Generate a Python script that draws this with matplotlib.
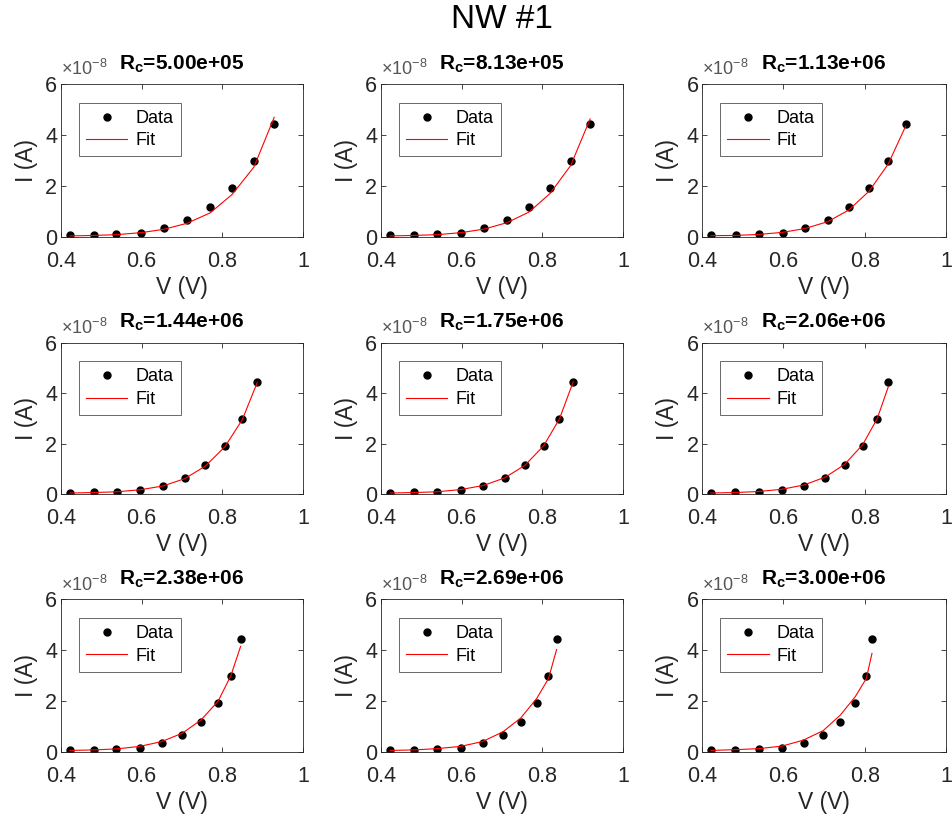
import matplotlib
matplotlib.use("Agg")
import matplotlib.pyplot as plt

plt.rcParams['font.family'] = ['Liberation Sans', 'DejaVu Sans']
plt.rcParams['mathtext.fontset'] = 'custom'
plt.rcParams['mathtext.rm'] = 'Liberation Sans'
plt.rcParams['mathtext.bf'] = 'Liberation Sans:bold'

# contact resistance tried in each panel (ohm)
rc_values = [5.00e5, 8.13e5, 1.13e6, 1.44e6, 1.75e6, 2.06e6, 2.38e6, 2.69e6, 3.00e6]

# measured current, in units of 1e-8 A (same for every panel)
current = [0.07, 0.075, 0.09, 0.16, 0.33, 0.66, 1.16, 1.90, 2.97, 4.44]

# junction voltage after removing the I*Rc drop, one list per panel
voltages = [
    [0.424, 0.482, 0.538, 0.599, 0.655, 0.713, 0.770, 0.824, 0.878, 0.928],
    [0.424, 0.482, 0.540, 0.599, 0.656, 0.712, 0.767, 0.819, 0.870, 0.918],
    [0.422, 0.483, 0.540, 0.598, 0.653, 0.709, 0.761, 0.811, 0.858, 0.901],
    [0.423, 0.482, 0.540, 0.597, 0.653, 0.707, 0.758, 0.806, 0.849, 0.886],
    [0.424, 0.483, 0.540, 0.599, 0.654, 0.707, 0.757, 0.803, 0.842, 0.876],
    [0.422, 0.482, 0.539, 0.597, 0.651, 0.703, 0.751, 0.795, 0.831, 0.858],
    [0.423, 0.482, 0.538, 0.596, 0.650, 0.701, 0.747, 0.789, 0.821, 0.845],
    [0.424, 0.482, 0.539, 0.598, 0.652, 0.702, 0.746, 0.786, 0.815, 0.835],
    [0.422, 0.482, 0.539, 0.597, 0.650, 0.698, 0.740, 0.777, 0.804, 0.818],
]

# diode fit evaluated at the same voltages (1e-8 A)
fits = [
    [0.03, 0.05, 0.08, 0.16, 0.29, 0.53, 0.94, 1.66, 2.74, 4.69],
    [0.03, 0.05, 0.08, 0.16, 0.30, 0.55, 0.97, 1.70, 2.80, 4.63],
    [0.04, 0.05, 0.09, 0.17, 0.32, 0.59, 1.05, 1.79, 2.86, 4.35],
    [0.05, 0.07, 0.10, 0.18, 0.33, 0.62, 1.12, 1.88, 2.95, 4.42],
    [0.05, 0.07, 0.10, 0.19, 0.35, 0.65, 1.15, 1.92, 2.98, 4.45],
    [0.05, 0.07, 0.11, 0.20, 0.37, 0.68, 1.19, 1.96, 3.00, 4.25],
    [0.05, 0.07, 0.11, 0.21, 0.40, 0.73, 1.25, 1.98, 3.00, 4.15],
    [0.05, 0.07, 0.12, 0.21, 0.40, 0.78, 1.32, 2.10, 2.88, 4.02],
    [0.05, 0.08, 0.12, 0.22, 0.46, 0.83, 1.44, 2.17, 2.88, 3.87],
]

W, H = 952, 817
grey = '#262626'
col_left = [60.7, 380.7, 702.0]
col_right = [303.3, 623.3, 946.0]
row_top = [84.0, 342.7, 599.3]
row_bot = [236.7, 494.3, 751.7]

fig = plt.figure(figsize=(W / 100, H / 100), dpi=100)
fig.text(502 / W, 1 - 28 / H, 'NW #1', ha='center', va='baseline', fontsize=24)

for k, rc in enumerate(rc_values):
    r, c = divmod(k, 3)
    x0, x1 = col_left[c], col_right[c]
    y0, y1 = row_top[r], row_bot[r]
    ax = fig.add_axes([x0 / W, 1 - y1 / H, (x1 - x0) / W, (y1 - y0) / H])

    ax.plot(voltages[k], current, 'o', color='k', markersize=5, label='Data')
    ax.plot(voltages[k], fits[k], '-', color='#ff0000', lw=0.8, label='Fit')

    ax.set_xlim(0.4, 1)
    ax.set_ylim(0, 6)
    ax.set_xticks([0.4, 0.6, 0.8, 1.0])
    ax.set_xticklabels(['0.4', '0.6', '0.8', '1'])
    ax.set_yticks([0, 2, 4, 6])
    ax.tick_params(direction='in', top=True, right=True, length=3.6, width=0.6,
                   colors=grey, labelsize=15.5)
    ax.tick_params(axis='x', pad=10)
    ax.tick_params(axis='y', pad=2.5)
    for sp in ax.spines.values():
        sp.set_color(grey)
        sp.set_linewidth(0.6)

    ax.set_xlabel('V (V)', fontsize=16.5, color=grey, labelpad=3)
    ax.set_ylabel('I (A)', fontsize=16.5, color=grey, labelpad=5)
    exp = '{:.2e}'.format(rc)
    ax.set_title(r'$\mathbf{R_c}$=' + exp, fontsize=15, fontweight='bold',
                 color='k', pad=10.5)
    ax.text(0.0, 1.03, r'$\times10^{-8}$', transform=ax.transAxes,
            fontsize=13, color='#555555', ha='left', va='bottom')

    leg = ax.legend(loc='upper left', bbox_to_anchor=(0.074, 0.878),
                    fontsize=13, frameon=True, fancybox=False,
                    handlelength=2.3, handletextpad=0.45, borderpad=0.4,
                    labelspacing=0.3, borderaxespad=0)
    leg.get_frame().set_edgecolor(grey)
    leg.get_frame().set_linewidth(0.6)
    for t in leg.get_texts():
        t.set_color('k')

fig.savefig('out.png', dpi=100, facecolor='white')
